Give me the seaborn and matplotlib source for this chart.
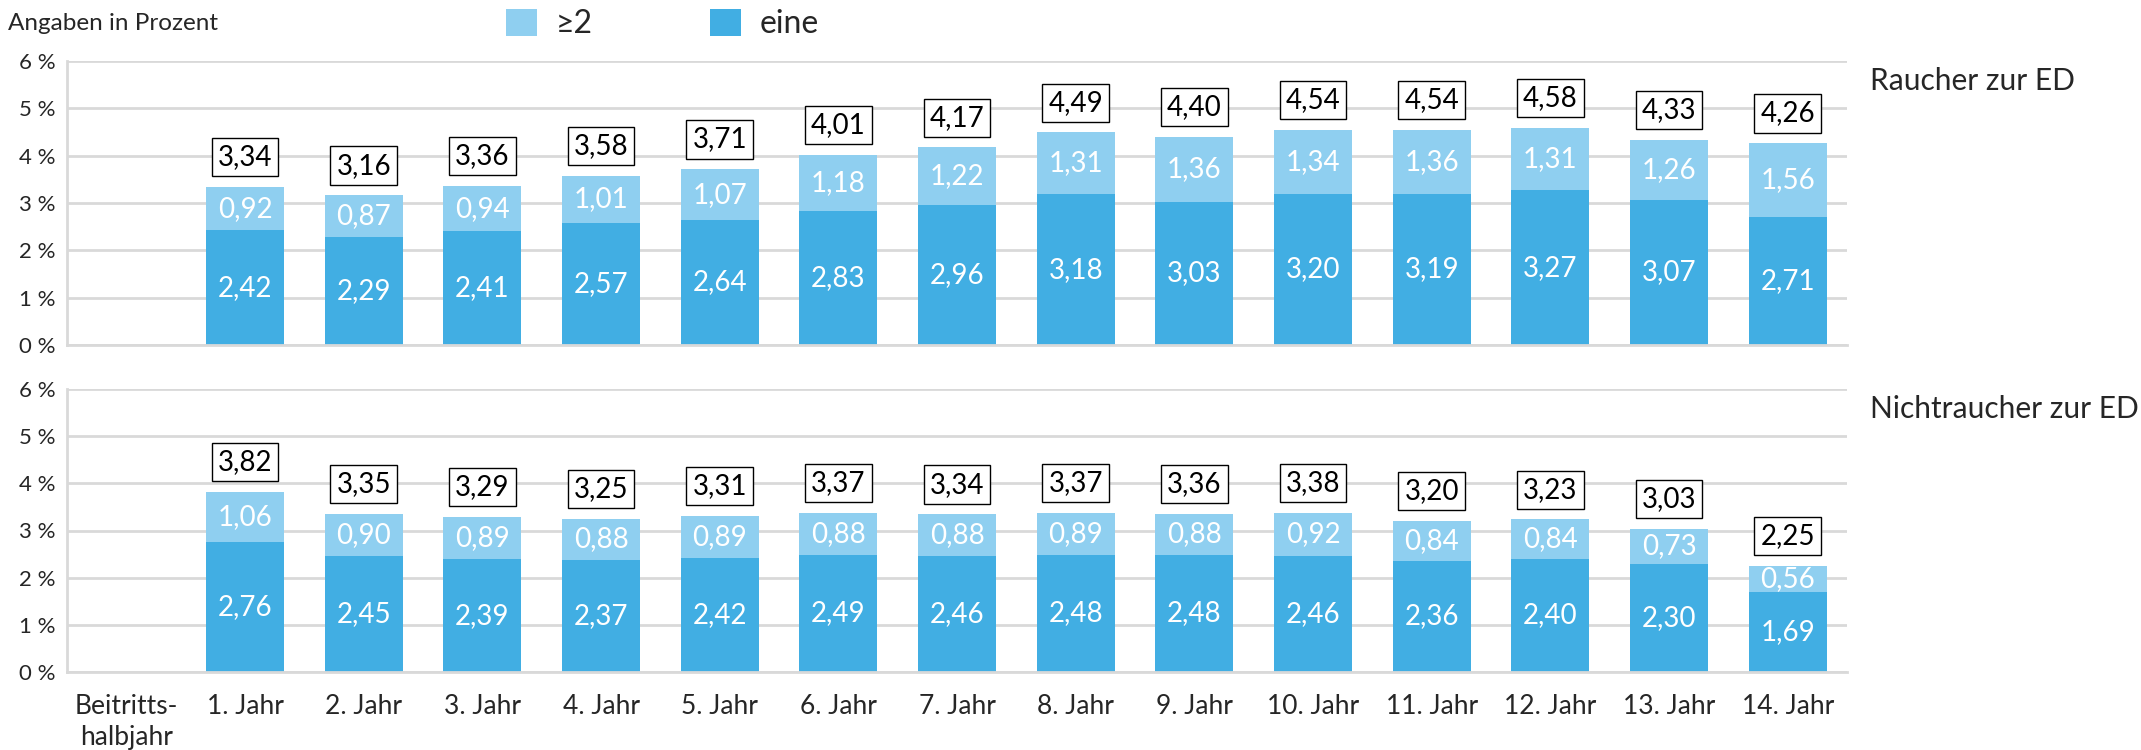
import numpy as np
import pandas as pd
import matplotlib
matplotlib.use("Agg")
import matplotlib.pyplot as plt
from matplotlib.patches import Patch
import seaborn as sns

# Categories (first slot has no data)
categories = ["Beitritts-\nhalbjahr", "1. Jahr", "2. Jahr", "3. Jahr", "4. Jahr", "5. Jahr",
              "6. Jahr", "7. Jahr", "8. Jahr", "9. Jahr", "10. Jahr", "11. Jahr",
              "12. Jahr", "13. Jahr", "14. Jahr"]
years = categories[1:]

# Raucher zur ED
raucher_eine = [2.42, 2.29, 2.41, 2.57, 2.64, 2.83, 2.96, 3.18, 3.03, 3.20, 3.19, 3.27, 3.07, 2.71]
raucher_mehr = [0.92, 0.87, 0.94, 1.01, 1.07, 1.18, 1.22, 1.31, 1.36, 1.34, 1.36, 1.31, 1.26, 1.56]
raucher_total = [3.34, 3.16, 3.36, 3.58, 3.71, 4.01, 4.17, 4.49, 4.40, 4.54, 4.54, 4.58, 4.33, 4.26]

# Nichtraucher zur ED
nicht_eine = [2.76, 2.45, 2.39, 2.37, 2.42, 2.49, 2.46, 2.48, 2.48, 2.46, 2.36, 2.40, 2.30, 1.69]
nicht_mehr = [1.06, 0.90, 0.89, 0.88, 0.89, 0.88, 0.88, 0.89, 0.88, 0.92, 0.84, 0.84, 0.73, 0.56]
nicht_total = [3.82, 3.35, 3.29, 3.25, 3.31, 3.37, 3.34, 3.37, 3.36, 3.38, 3.20, 3.23, 3.03, 2.25]

y_ticks = [0, 1, 2, 3, 4, 5, 6]

DARK = "#41AEE3"
LIGHT = "#8FCFF0"
GRID = "#D9D9D9"

sns.set_theme(style="white")
plt.rcParams["font.family"] = ["Lato", "DejaVu Sans"]

fig = plt.figure(figsize=(21.41, 7.5), dpi=100)
W, H = 2141, 750


def axes_px(left, top, right, bottom):
    return fig.add_axes([left / W, 1 - bottom / H, (right - left) / W, (bottom - top) / H])


ax_top = axes_px(67, 61, 1847, 345)
ax_bot = axes_px(67, 389, 1847, 672)


def fmt(v):
    return f"{v:.2f}".replace(".", ",")


def draw_panel(ax, eine, mehr, total, title, show_x):
    df = pd.DataFrame({"cat": years, "eine": eine, "mehr": mehr})
    df["stack"] = df["eine"] + df["mehr"]
    sns.barplot(data=df, x="cat", y="stack", order=categories, color=LIGHT,
                width=0.66, linewidth=0, saturation=1, ax=ax)
    sns.barplot(data=df, x="cat", y="eine", order=categories, color=DARK,
                width=0.66, linewidth=0, saturation=1, ax=ax)
    for i, (e, m, t) in enumerate(zip(eine, mehr, total), start=1):
        ax.text(i, e / 2, fmt(e), ha="center", va="center", color="white", fontsize=20)
        ax.text(i, e + m / 2, fmt(m), ha="center", va="center", color="white", fontsize=20)
        ax.annotate(fmt(t), xy=(i, t), xytext=(0, 21.5), textcoords="offset points",
                    ha="center", va="center", fontsize=20, color="black",
                    bbox=dict(boxstyle="square,pad=0.22", fc="white", ec="black", lw=1))
    ax.set_ylim(0, 6)
    ax.set_xlim(-0.5, len(categories) - 0.5)
    ax.set_yticks(y_ticks)
    ax.set_yticklabels([f"{v} %" for v in y_ticks], fontsize=16)
    ax.yaxis.grid(True, color=GRID, lw=2)
    ax.set_axisbelow(True)
    for s in ["top", "right"]:
        ax.spines[s].set_visible(False)
    for s in ["left", "bottom"]:
        ax.spines[s].set_color(GRID)
        ax.spines[s].set_linewidth(2)
    ax.tick_params(axis="both", length=0, pad=8)
    ax.set_xlabel("")
    ax.set_ylabel("")
    if show_x:
        ax.set_xticklabels(categories, fontsize=19, linespacing=1.28)
        ax.tick_params(axis="x", pad=16)
    else:
        ax.set_xticklabels([])
    ax.text(1.013, 0.93, title, transform=ax.transAxes, ha="left", va="center", fontsize=21.5)


draw_panel(ax_top, raucher_eine, raucher_mehr, raucher_total, "Raucher zur ED", False)
draw_panel(ax_bot, nicht_eine, nicht_mehr, nicht_total, "Nichtraucher zur ED", True)

fig.text(8 / W, 1 - 23 / H, "Angaben in Prozent", ha="left", va="center", fontsize=17.5)

handles = [Patch(facecolor=LIGHT, edgecolor="none", label="≥2"),
           Patch(facecolor=DARK, edgecolor="none", label="eine")]
fig.legend(handles=handles, loc="center left", bbox_to_anchor=(506 / W, 1 - 24 / H),
           ncol=2, frameon=False, fontsize=23, handlelength=0.97, handleheight=0.97,
           handletextpad=0.6, columnspacing=3.65, borderpad=0, borderaxespad=0)

fig.savefig("out.png", dpi=100)
